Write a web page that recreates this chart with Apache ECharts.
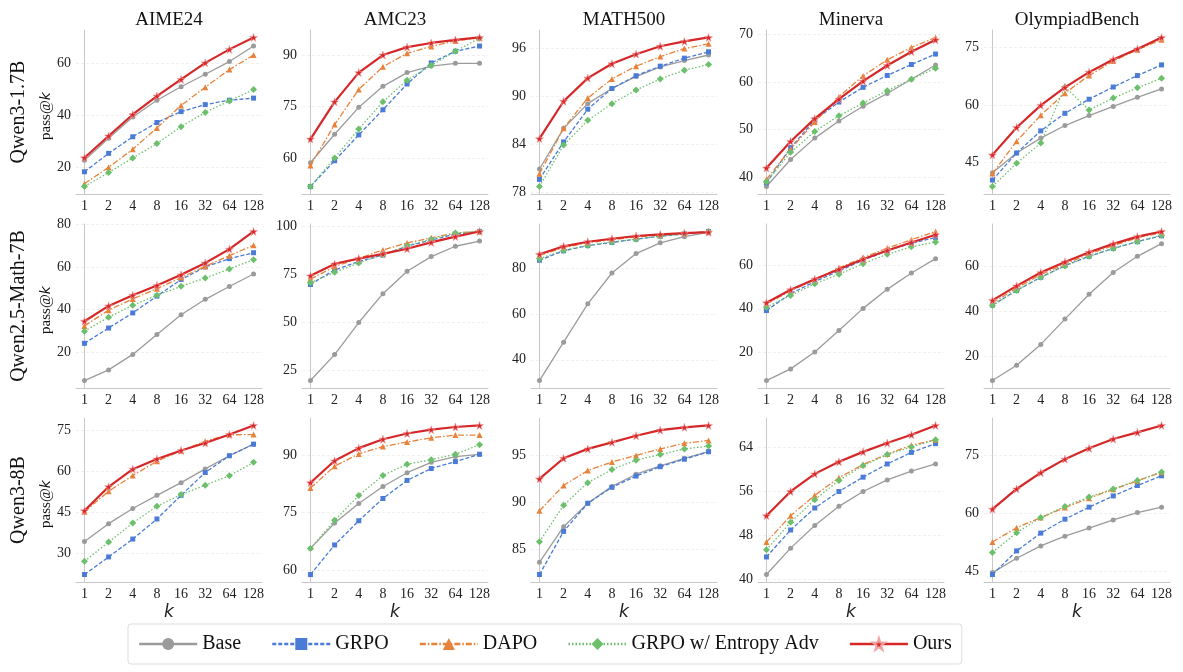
<!DOCTYPE html>
<html>
<head>
<meta charset="utf-8">
<script src="https://cdn.jsdelivr.net/npm/echarts@6/dist/echarts.min.js"></script>
<style>
html, body { margin: 0; padding: 0; background: #fff; }
#chart { width: 1183px; height: 672px; }
</style>
</head>
<body>
<div id="chart"></div>
<script>
// === DATA ===
const kLabels = ['1', '2', '4', '8', '16', '32', '64', '128'];
const methods = ['Base', 'GRPO', 'DAPO', 'GRPO w/ Entropy Adv', 'Ours'];
const benchmarks = ['AIME24', 'AMC23', 'MATH500', 'Minerva', 'OlympiadBench'];
const models = ['Qwen3-1.7B', 'Qwen2.5-Math-7B', 'Qwen3-8B'];

// each: [Base, GRPO, DAPO, GRPO w/ Entropy Adv, Ours], pass@k for k = 1..128
const q17Aime = [
    [22.7, 31.2, 39.4, 45.9, 51.1, 55.9, 60.8, 66.8],
    [18.3, 25.4, 31.8, 37.3, 41.5, 44.2, 45.9, 46.7],
    [13.7, 20.0, 27.0, 35.2, 43.9, 50.9, 57.7, 63.3],
    [12.6, 18.0, 23.6, 29.2, 35.7, 41.2, 45.6, 50.0],
    [23.7, 32.1, 40.4, 47.5, 53.9, 60.3, 65.5, 70.1]
];
const q17Amc = [
    [58.7, 67.0, 74.8, 80.9, 84.9, 86.8, 87.6, 87.6],
    [51.8, 59.3, 66.8, 74.1, 81.6, 87.7, 91.1, 92.6],
    [57.9, 69.8, 80.0, 86.6, 90.5, 92.5, 94.1, 95.0],
    [51.8, 60.1, 68.5, 76.4, 82.7, 87.0, 91.1, 94.9],
    [65.6, 76.4, 84.9, 90.0, 92.3, 93.5, 94.4, 95.1]
];
const q17Math = [
    [80.9, 86.0, 89.1, 91.0, 92.5, 93.7, 94.5, 95.2],
    [79.6, 84.3, 88.4, 91.0, 92.6, 93.8, 94.8, 95.6],
    [80.3, 86.0, 89.8, 92.2, 93.8, 95.0, 96.0, 96.6],
    [78.7, 83.9, 87.0, 89.1, 90.8, 92.2, 93.3, 94.0],
    [84.7, 89.4, 92.3, 94.1, 95.3, 96.3, 96.9, 97.4]
];
const q17Minerva = [
    [38.0, 43.7, 48.2, 51.8, 54.9, 57.6, 60.6, 63.6],
    [38.8, 46.2, 52.0, 55.8, 58.9, 61.4, 63.7, 65.9],
    [39.5, 45.9, 51.6, 56.9, 61.3, 64.7, 67.3, 69.4],
    [39.0, 45.2, 49.6, 52.9, 55.6, 58.2, 60.6, 62.9],
    [41.9, 47.5, 52.3, 56.4, 60.2, 63.5, 66.4, 68.9]
];
const q17Olym = [
    [42.2, 47.4, 51.3, 54.6, 57.2, 59.6, 62.0, 64.2],
    [40.3, 47.4, 53.2, 57.8, 61.5, 64.7, 67.7, 70.5],
    [42.0, 50.5, 57.3, 63.1, 67.7, 71.5, 74.5, 77.1],
    [38.6, 44.7, 50.0, 64.7, 58.7, 61.8, 64.5, 67.0],
    [46.9, 54.1, 59.9, 64.6, 68.6, 71.9, 74.7, 77.7]
];

const qm7Aime = [
    [6.6, 11.6, 18.9, 28.3, 37.5, 44.8, 50.8, 56.7],
    [24.1, 31.3, 38.4, 46.3, 54.1, 60.0, 63.9, 66.7],
    [32.3, 39.7, 45.0, 49.8, 55.0, 60.3, 65.3, 70.2],
    [29.8, 36.4, 42.0, 46.7, 50.9, 54.8, 59.1, 63.4],
    [34.5, 41.7, 46.7, 51.3, 56.3, 61.9, 68.4, 76.7]
];
const qm7Amc = [
    [19.8, 33.3, 50.0, 65.0, 76.7, 84.3, 89.7, 92.4],
    [69.8, 77.4, 81.7, 85.2, 89.8, 92.9, 96.0, 97.4],
    [72.6, 79.1, 83.4, 87.8, 91.4, 94.1, 96.6, 97.4],
    [70.7, 76.2, 81.0, 85.3, 90.0, 93.4, 96.6, 97.4],
    [74.3, 80.5, 83.3, 85.7, 88.4, 91.7, 94.7, 97.4]
];
const qm7Math = [
    [30.9, 47.7, 64.5, 78.0, 86.5, 91.2, 93.9, 95.8],
    [83.6, 87.7, 90.0, 91.4, 92.8, 94.1, 95.1, 96.2],
    [85.7, 89.1, 91.3, 92.6, 93.8, 94.6, 95.4, 95.9],
    [84.2, 88.0, 90.0, 91.6, 92.8, 94.1, 95.2, 96.2],
    [86.2, 89.7, 91.7, 93.0, 94.2, 94.9, 95.5, 95.9]
];
const qm7Minerva = [
    [6.8, 12.2, 20.0, 30.0, 40.2, 49.0, 56.6, 63.2],
    [39.2, 47.0, 52.6, 57.5, 62.5, 66.9, 70.3, 73.0],
    [42.2, 48.4, 53.4, 58.9, 63.7, 68.1, 72.0, 75.8],
    [40.7, 46.2, 51.6, 56.0, 60.9, 65.2, 68.7, 70.9],
    [42.8, 48.8, 53.7, 58.3, 62.9, 67.0, 70.7, 74.3]
];
const qm7Olym = [
    [9.4, 16.2, 25.4, 36.6, 47.6, 57.2, 64.4, 70.0],
    [42.8, 49.3, 55.1, 60.3, 64.4, 67.9, 70.9, 73.5],
    [43.8, 50.3, 56.3, 61.0, 65.4, 69.1, 72.6, 74.9],
    [42.6, 49.3, 55.1, 60.1, 64.4, 67.9, 70.9, 73.7],
    [44.9, 51.3, 57.2, 61.9, 66.2, 69.9, 73.1, 75.4]
];

const q8Aime = [
    [34.4, 40.9, 46.4, 51.2, 55.8, 60.8, 65.6, 69.8],
    [22.4, 28.8, 35.3, 42.6, 51.2, 59.5, 65.6, 69.8],
    [45.2, 52.7, 58.4, 63.6, 67.4, 70.9, 73.2, 73.3],
    [27.2, 34.2, 41.1, 47.2, 51.5, 54.9, 58.3, 63.2],
    [45.6, 54.3, 60.7, 64.4, 67.5, 70.2, 73.3, 76.6]
];
const q8Amc = [
    [65.7, 72.3, 77.4, 81.8, 85.4, 88.1, 89.6, 90.2],
    [58.9, 66.6, 72.9, 78.7, 83.4, 86.5, 88.3, 90.2],
    [81.4, 87.1, 90.3, 92.2, 93.4, 94.5, 95.2, 95.2],
    [65.7, 73.0, 79.5, 84.7, 87.6, 88.8, 90.2, 92.7],
    [82.8, 88.5, 91.8, 94.1, 95.6, 96.6, 97.3, 97.7]
];
const q8Math = [
    [83.6, 87.4, 89.9, 91.7, 93.0, 93.9, 94.7, 95.4],
    [82.3, 86.9, 89.9, 91.6, 92.8, 93.8, 94.6, 95.4],
    [89.1, 91.8, 93.4, 94.3, 95.0, 95.7, 96.3, 96.6],
    [85.8, 89.7, 92.1, 93.5, 94.5, 95.1, 95.7, 96.0],
    [92.5, 94.7, 95.7, 96.4, 97.1, 97.7, 98.0, 98.2]
];
const q8Minerva = [
    [40.9, 45.7, 49.8, 53.3, 56.0, 58.1, 59.7, 61.0],
    [44.1, 49.0, 53.0, 56.0, 58.6, 61.0, 63.1, 64.7],
    [46.8, 51.6, 55.3, 58.5, 60.9, 62.8, 64.4, 65.4],
    [45.4, 50.4, 54.5, 58.0, 60.7, 62.7, 64.1, 65.4],
    [51.6, 56.0, 59.2, 61.4, 63.2, 64.8, 66.3, 68.0]
];
const q8Olym = [
    [44.7, 48.4, 51.6, 54.1, 56.2, 58.3, 60.2, 61.6],
    [44.2, 50.3, 54.9, 58.5, 61.6, 64.5, 67.2, 69.7],
    [52.6, 56.3, 58.9, 61.5, 63.9, 66.2, 68.4, 70.6],
    [49.9, 55.0, 58.9, 61.8, 64.2, 66.3, 68.5, 70.7],
    [61.1, 66.3, 70.5, 74.0, 76.8, 79.2, 80.9, 82.7]
];

const panels = [
    [q17Aime, q17Amc, q17Math, q17Minerva, q17Olym],
    [qm7Aime, qm7Amc, qm7Math, qm7Minerva, qm7Olym],
    [q8Aime, q8Amc, q8Math, q8Minerva, q8Olym]
];
const yTickSteps = [
    [20, 15, 6, 10, 15],
    [20, 25, 20, 20, 20],
    [15, 15, 5, 8, 15]
];

// === LAYOUT / STYLE ===
const colLeft = [76, 302, 531, 758, 984];
const rowTop = [30, 224, 418];
const plotW = 186;
const plotH = 164;
const serif = 'Liberation Serif';
const STAR = 'path://M50,0 L61,35 L98,35 L68,57 L79,91 L50,70 L21,91 L32,57 L2,35 L39,35 Z';

const styles = [
    { color: '#9b9b9b', type: 'solid', width: 1.3, symbol: 'circle', size: 5 },
    { color: '#4a7bd6', type: [4, 2], width: 1.3, symbol: 'rect', size: 5 },
    { color: '#e8823b', type: [6, 2, 1.5, 2], width: 1.3, symbol: 'triangle', size: 6 },
    { color: '#6cc06b', type: [1.5, 2], width: 1.3, symbol: 'diamond', size: 7 },
    { color: '#d62728', type: 'solid', width: 2.2, symbol: STAR, size: 8 }
];

// === BUILD ===
const grids = [], xAxes = [], yAxes = [], series = [], graphics = [];

models.forEach((model, r) => {
    benchmarks.forEach((bench, c) => {
        const g = r * 5 + c;
        const rows = panels[r][c];
        const all = rows.flat();
        const lo = Math.min(...all), hi = Math.max(...all);
        const pad = (hi - lo) * 0.05;
        const step = yTickSteps[r][c];

        grids.push({ left: colLeft[c], top: rowTop[r], width: plotW, height: plotH, containLabel: false });

        xAxes.push({
            gridIndex: g,
            type: 'value',
            min: -0.35,
            max: 7.35,
            minInterval: 1,
            maxInterval: 1,
            name: r === 2 ? 'k' : '',
            nameLocation: 'middle',
            nameGap: 22,
            nameTextStyle: { fontFamily: 'DejaVu Sans', fontStyle: 'italic', fontSize: 17, color: '#222' },
            axisLine: { show: true, lineStyle: { color: '#c8c8c8', width: 1 } },
            axisTick: { show: false },
            splitLine: { show: false },
            axisLabel: {
                showMinLabel: false,
                showMaxLabel: false,
                margin: 5,
                fontFamily: serif,
                fontSize: 14,
                color: '#222',
                formatter: v => (Number.isInteger(Math.round(v * 1000) / 1000) && v >= 0 ? kLabels[Math.round(v)] : '')
            }
        });

        yAxes.push({
            gridIndex: g,
            type: 'value',
            min: lo - pad,
            max: hi + pad,
            minInterval: step,
            maxInterval: step,
            axisLine: { show: true, lineStyle: { color: '#c8c8c8', width: 1 } },
            axisTick: { show: false },
            axisLabel: {
                showMinLabel: false,
                showMaxLabel: false,
                margin: 5,
                fontFamily: serif,
                fontSize: 14,
                color: '#222'
            },
            splitLine: {
                show: true,
                showMinLine: false,
                showMaxLine: false,
                lineStyle: { color: '#ececec', type: [3, 2], width: 0.8 }
            }
        });

        rows.forEach((vals, m) => {
            const s = styles[m];
            series.push({
                name: methods[m],
                type: 'line',
                xAxisIndex: g,
                yAxisIndex: g,
                data: vals.map((v, i) => [i, v]),
                symbol: s.symbol,
                symbolSize: s.size,
                showSymbol: true,
                lineStyle: { color: s.color, width: s.width, type: s.type },
                itemStyle: { color: s.color, borderColor: m === 4 ? '#f3a5a5' : s.color, borderWidth: m === 4 ? 0.6 : 0 },
                emphasis: { disabled: true },
                z: 2 + m
            });
        });

        if (r === 0) {
            graphics.push({
                type: 'text', x: colLeft[c] + plotW / 2, y: 20,
                style: { text: bench, fontFamily: serif, fontSize: 19, fill: '#111', align: 'center', verticalAlign: 'middle' }
            });
        }
    });

    const cy = rowTop[r] + plotH / 2;
    graphics.push({
        type: 'text', x: 19, y: cy, rotation: Math.PI / 2,
        style: { text: model, fontFamily: serif, fontSize: 20, fill: '#111', align: 'center', verticalAlign: 'middle' }
    });
    graphics.push({
        type: 'text', x: 46, y: cy + 4, rotation: Math.PI / 2,
        style: {
            text: '{a|pass@}{b|k}',
            align: 'center', verticalAlign: 'middle',
            rich: {
                a: { fontFamily: serif, fontSize: 15, fill: '#111' },
                b: { fontFamily: 'DejaVu Sans', fontStyle: 'italic', fontSize: 14, fill: '#111' }
            }
        }
    });
});

const chart = echarts.init(document.getElementById('chart'), null, { renderer: 'canvas' });
chart.setOption({
    animation: false,
    backgroundColor: '#fff',
    grid: grids,
    xAxis: xAxes,
    yAxis: yAxes,
    series: series,
    graphic: graphics,
    legend: {
        data: methods,
        left: 128,
        top: 624,
        padding: [10, 10],
        itemWidth: 58,
        itemHeight: 15,
        itemGap: 30,
        borderColor: '#dddddd',
        borderWidth: 1,
        borderRadius: 3,
        lineStyle: { width: 2.4 },
        textStyle: { fontFamily: serif, fontSize: 20, color: '#111' },
        selectedMode: false
    }
});
</script>
</body>
</html>
